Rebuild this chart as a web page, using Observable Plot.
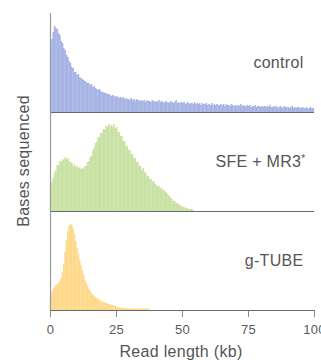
<!DOCTYPE html>
<html>
<head>
<meta charset="utf-8">
<script src="https://cdn.jsdelivr.net/npm/d3@7"></script>
<script src="https://cdn.jsdelivr.net/npm/@observablehq/plot@0.6"></script>
<style>
  html, body { margin: 0; padding: 0; background: #fff; }
  #chart svg { display: block; }
</style>
</head>
<body>
<div id="chart"></div>
<script>
// Panel names, colors
const series = ["control", "SFE + MR3", "g-TUBE"];
const seriesLabels = ["control", "SFE + MR3", "g-TUBE"];
const colors = ["#a6b4e4", "#c9e2a4", "#fed98c"];

// Bin width (kb)
const binWidth = 0.5;
const xTicks = [0, 25, 50, 75, 100];

// Relative bases sequenced per 0.5 kb bin (starting at 0 kb)
const control = [
  62, 73, 80, 86, 84, 83, 79, 77, 71, 69,
  64, 62, 57, 55, 51, 49, 45, 44, 40, 40,
  37, 38, 35, 34, 33, 32, 31, 30, 29, 29,
  27, 28, 25, 26, 24, 23, 22, 23, 21, 20,
  20, 19, 19, 18, 18, 17, 16, 17, 16, 15,
  16, 15, 14, 15, 14, 15, 13, 14, 13, 13,
  12, 14, 12, 13, 11, 13, 12, 12, 11, 12,
  11, 12, 10, 12, 11, 11, 10, 12, 11, 10,
  11, 10, 12, 10, 11, 10, 9, 11, 10, 10,
  9, 11, 10, 9, 10, 12, 9, 10, 9, 10,
  9, 10, 8, 9, 10, 8, 9, 9, 8, 10,
  8, 9, 8, 9, 7, 9, 8, 8, 9, 7,
  8, 7, 9, 7, 8, 7, 8, 7, 7, 8,
  7, 8, 6, 8, 7, 7, 6, 8, 7, 6,
  7, 6, 7, 6, 8, 6, 7, 6, 6, 7,
  6, 7, 5, 6, 6, 7, 5, 6, 6, 5,
  6, 5, 6, 5, 6, 5, 7, 5, 5, 6,
  5, 6, 4, 5, 6, 5, 4, 6, 5, 5,
  5, 4, 5, 6, 4, 5, 4, 5, 5, 4,
  4, 5, 4, 4, 5, 3, 4, 5, 4, 4
];

const sfe = [
  22, 29, 33, 39, 41, 46, 46, 50, 49, 52,
  51, 54, 52, 53, 50, 49, 48, 45, 47, 44,
  45, 43, 44, 42, 43, 42, 45, 45, 49, 50,
  54, 55, 61, 63, 68, 69, 74, 74, 78, 78,
  82, 82, 85, 84, 87, 84, 86, 84, 87, 83,
  84, 79, 79, 75, 75, 70, 70, 65, 65, 61,
  61, 57, 57, 53, 53, 49, 49, 45, 45, 41,
  43, 39, 38, 35, 35, 32, 32, 29, 30, 27,
  26, 25, 25, 23, 23, 21, 21, 19, 18, 16,
  15, 13, 12, 10, 10, 8, 8, 7, 6, 5,
  4, 4, 3, 3, 2, 2, 2, 2, 1
];

const gtube = [
  14, 18, 21, 23, 25, 26, 27, 29, 32, 38,
  46, 58, 70, 79, 84, 86, 85, 82, 76, 69,
  62, 56, 50, 45, 40, 35, 30, 27, 24, 21,
  19, 17, 15, 14, 13, 12, 11, 10, 9, 8.5,
  8, 7.5, 7, 6.5, 6, 5.5, 5, 5, 4.5, 4,
  3, 3, 2.5, 2.5, 2, 2, 2, 1.5, 1.5, 1.5,
  1.5, 1.5, 1.5, 1.5, 1.5, 1.5, 1.5, 1.5, 1.5, 1.5,
  1.5, 1.5, 1.5, 1.5, 1.5
];

const values = [control, sfe, gtube];
const rows = [];
values.forEach((arr, s) => arr.forEach((v, i) => rows.push({
  series: series[s], x1: i * binWidth, x2: (i + 1) * binWidth, y: v
})));

const labelRows = series.map((s, i) => ({series: s, label: seriesLabels[i]}));

const font = "'Liberation Sans', Arial, Helvetica, sans-serif";

const plot = Plot.plot({
  width: 321,
  height: 360,
  marginLeft: 50,
  marginRight: 7,
  marginTop: 12,
  marginBottom: 50,
  style: {fontFamily: font, fontSize: "13px", color: "#5a5a5a", background: "#fff", letterSpacing: "0.3px"},
  x: {domain: [0, 100], ticks: xTicks, tickSize: 7, tickPadding: 7, label: null},
  y: {domain: [0, 99], axis: null},
  fy: {domain: series, axis: null, padding: 0},
  color: {domain: series, range: colors},
  marks: [
    Plot.rectY(rows, {x1: "x1", x2: "x2", y: "y", fy: "series", fill: "series", insetLeft: -0.15, insetRight: -0.15}),
    Plot.ruleY([0], {stroke: "#6a6a6a", strokeWidth: 1.2}),
    Plot.ruleX([0], {stroke: "#9a9a9a", strokeWidth: 1.2}),
    Plot.text(labelRows.filter(d => d.series !== "SFE + MR3"), {
      fy: "series", text: "label", frameAnchor: "right", dx: -11,
      textAnchor: "end", fontSize: 16, fill: "#555"
    }),
    Plot.text(labelRows.filter(d => d.series === "SFE + MR3"), {
      fy: "series", text: "label", frameAnchor: "right", dx: -9,
      textAnchor: "end", fontSize: 16, fill: "#555", letterSpacing: "0px"
    })
  ]
});

document.getElementById("chart").appendChild(plot);

const svg = d3.select(plot);
svg.selectAll("g[aria-label='x-axis tick'] path").attr("stroke", "#888");

// superscript asterisk on SFE label
svg.selectAll("text").filter(function() { return this.textContent === "SFE + MR3"; })
  .append("tspan").attr("font-size", 10).attr("dy", "-0.5em").text("*");

svg.append("text")
  .attr("transform", "translate(28.5,161) rotate(-90)")
  .attr("text-anchor", "middle")
  .attr("font-size", 16)
  .attr("fill", "#555")
  .text("Bases sequenced");

svg.append("text")
  .attr("x", 181)
  .attr("y", 357)
  .attr("text-anchor", "middle")
  .attr("font-size", 16)
  .attr("fill", "#555")
  .text("Read length (kb)");
</script>
</body>
</html>
